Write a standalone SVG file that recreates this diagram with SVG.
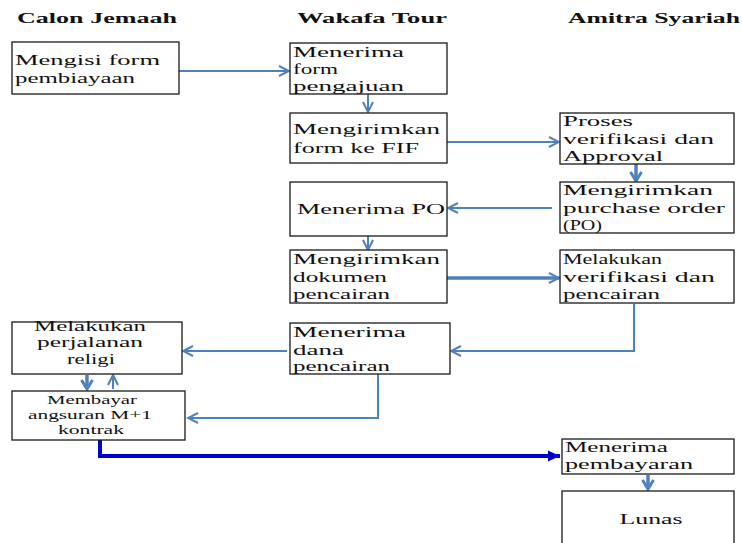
<svg xmlns="http://www.w3.org/2000/svg" width="742" height="543" viewBox="0 0 742 543">
<style>
  .box { fill: #ffffff; stroke: #1a1a1a; stroke-width: 1.3; }
  .t { font-family: 'Liberation Serif', 'DejaVu Serif', 'Times New Roman', serif; font-size: 15.5px; fill: #111; }
  .ts { font-family: 'Liberation Serif', 'DejaVu Serif', 'Times New Roman', serif; font-size: 12.5px; fill: #111; }
  .h { font-family: 'Liberation Serif', 'DejaVu Serif', 'Times New Roman', serif; font-size: 15px; font-weight: bold; fill: #111; }
  .c { fill: none; stroke: #4F81BD; stroke-width: 2; }
  .ck { fill: none; stroke: #4F81BD; stroke-width: 3.5; }
  .cb { fill: none; stroke: #0000CC; stroke-width: 4; }
</style>
<defs>
  <marker id="ah" markerUnits="userSpaceOnUse" markerWidth="14" markerHeight="14" viewBox="0 0 14 14" refX="12" refY="7" orient="auto">
    <path d="M2,2 L12,7 L2,12" fill="none" stroke="#4F81BD" stroke-width="2"/>
  </marker>
  <marker id="ahk" markerUnits="userSpaceOnUse" markerWidth="14" markerHeight="14" viewBox="0 0 14 14" refX="12" refY="7" orient="auto">
    <path d="M3,1.5 L12,7 L3,12.5" fill="none" stroke="#4F81BD" stroke-width="3"/>
  </marker>
  <marker id="ahb" markerUnits="userSpaceOnUse" markerWidth="14" markerHeight="14" viewBox="0 0 14 14" refX="13" refY="7" orient="auto">
    <path d="M1,1.5 L13,7 L1,12.5 Z" fill="#0000CC"/>
  </marker>
</defs>

<g id="headers">
  <text class="h" x="17" y="23" textLength="160" lengthAdjust="spacingAndGlyphs">Calon Jemaah</text>
  <text class="h" x="297" y="23" textLength="150" lengthAdjust="spacingAndGlyphs">Wakafa Tour</text>
  <text class="h" x="568" y="23" textLength="172" lengthAdjust="spacingAndGlyphs">Amitra Syariah</text>
</g>

<g id="connectors">
  <path class="c" d="M179,71 L289,71" marker-end="url(#ah)"/>
  <path class="c" d="M368,94 L368,112" marker-end="url(#ah)"/>
  <path class="c" d="M447,142 L559,142" marker-end="url(#ah)"/>
  <path class="ck" d="M636,164 L636,181" marker-end="url(#ahk)"/>
  <path class="c" d="M552,208 L448,208" marker-end="url(#ah)"/>
  <path class="c" d="M368,236 L368,250" marker-end="url(#ah)"/>
  <path class="ck" d="M447,278 L559,278" marker-end="url(#ah)"/>
  <path class="c" d="M634,304 L634,351 L451,351" marker-end="url(#ah)"/>
  <path class="c" d="M287,351 L183,351" marker-end="url(#ah)"/>
  <path class="c" d="M378,374 L378,418 L188,418" marker-end="url(#ah)"/>
  <path class="ck" d="M87,375 L87,389" marker-end="url(#ahk)"/>
  <path class="c" d="M113,389 L113,375" marker-end="url(#ah)"/>
  <path class="cb" d="M100,440 L100,456 L560,456" marker-end="url(#ahb)"/>
  <path class="ck" d="M648,475 L648,489" marker-end="url(#ahk)"/>
</g>

<g id="n1">
  <rect class="box" x="12" y="42" width="167" height="52"/>
  <text class="t" x="15" y="65" textLength="145" lengthAdjust="spacingAndGlyphs">Mengisi form</text>
  <text class="t" x="15" y="83" textLength="120" lengthAdjust="spacingAndGlyphs">pembiayaan</text>
</g>
<g id="n2">
  <rect class="box" x="290" y="43" width="157" height="51"/>
  <text class="t" x="293" y="57" textLength="111" lengthAdjust="spacingAndGlyphs">Menerima</text>
  <text class="t" x="293" y="74" textLength="45" lengthAdjust="spacingAndGlyphs">form</text>
  <text class="t" x="293" y="91" textLength="111" lengthAdjust="spacingAndGlyphs">pengajuan</text>
</g>
<g id="n3">
  <rect class="box" x="290" y="113" width="157" height="50"/>
  <text class="t" x="293" y="134" textLength="147" lengthAdjust="spacingAndGlyphs">Mengirimkan</text>
  <text class="t" x="293" y="153" textLength="126" lengthAdjust="spacingAndGlyphs">form ke FIF</text>
</g>
<g id="n4">
  <rect class="box" x="560" y="113" width="174" height="51"/>
  <text class="t" x="563" y="126" textLength="70" lengthAdjust="spacingAndGlyphs">Proses</text>
  <text class="t" x="563" y="144" textLength="151" lengthAdjust="spacingAndGlyphs">verifikasi dan</text>
  <text class="t" x="563" y="161" textLength="100" lengthAdjust="spacingAndGlyphs">Approval</text>
</g>
<g id="n5">
  <rect class="box" x="560" y="182" width="174" height="51"/>
  <text class="t" x="563" y="195" textLength="150" lengthAdjust="spacingAndGlyphs">Mengirimkan</text>
  <text class="t" x="563" y="213" textLength="162" lengthAdjust="spacingAndGlyphs">purchase order</text>
  <text class="t" x="563" y="230" textLength="39" lengthAdjust="spacingAndGlyphs">(PO)</text>
</g>
<g id="n6">
  <rect class="box" x="290" y="182" width="157" height="54"/>
  <text class="t" x="297" y="214" textLength="148" lengthAdjust="spacingAndGlyphs">Menerima PO</text>
</g>
<g id="n7">
  <rect class="box" x="290" y="250" width="157" height="53"/>
  <text class="t" x="293" y="264" textLength="147" lengthAdjust="spacingAndGlyphs">Mengirimkan</text>
  <text class="t" x="293" y="282" textLength="94" lengthAdjust="spacingAndGlyphs">dokumen</text>
  <text class="t" x="293" y="299" textLength="97" lengthAdjust="spacingAndGlyphs">pencairan</text>
</g>
<g id="n8">
  <rect class="box" x="560" y="250" width="174" height="53"/>
  <text class="t" x="563" y="264" textLength="99" lengthAdjust="spacingAndGlyphs">Melakukan</text>
  <text class="t" x="563" y="282" textLength="152" lengthAdjust="spacingAndGlyphs">verifikasi dan</text>
  <text class="t" x="563" y="299" textLength="97" lengthAdjust="spacingAndGlyphs">pencairan</text>
</g>
<g id="n9">
  <rect class="box" x="290" y="323" width="160" height="51"/>
  <text class="t" x="293" y="337" textLength="113" lengthAdjust="spacingAndGlyphs">Menerima</text>
  <text class="t" x="293" y="355" textLength="51" lengthAdjust="spacingAndGlyphs">dana</text>
  <text class="t" x="293" y="371" textLength="97" lengthAdjust="spacingAndGlyphs">pencairan</text>
</g>
<g id="n10">
  <rect class="box" x="12" y="322" width="170" height="52"/>
  <text class="t" x="90" y="331" text-anchor="middle" textLength="112" lengthAdjust="spacingAndGlyphs">Melakukan</text>
  <text class="t" x="90" y="347" text-anchor="middle" textLength="106" lengthAdjust="spacingAndGlyphs">perjalanan</text>
  <text class="t" x="91" y="364" text-anchor="middle" textLength="48" lengthAdjust="spacingAndGlyphs">religi</text>
</g>
<g id="n11">
  <rect class="box" x="12" y="391" width="173" height="49"/>
  <text class="ts" x="92" y="404" text-anchor="middle" textLength="90" lengthAdjust="spacingAndGlyphs">Membayar</text>
  <text class="ts" x="90" y="419" text-anchor="middle" textLength="124" lengthAdjust="spacingAndGlyphs">angsuran M+1</text>
  <text class="ts" x="91" y="434" text-anchor="middle" textLength="66" lengthAdjust="spacingAndGlyphs">kontrak</text>
</g>
<g id="n12">
  <rect class="box" x="562" y="439" width="172" height="35"/>
  <text class="t" x="565" y="452" textLength="103" lengthAdjust="spacingAndGlyphs">Menerima</text>
  <text class="t" x="565" y="469" textLength="128" lengthAdjust="spacingAndGlyphs">pembayaran</text>
</g>
<g id="n13">
  <rect class="box" x="562" y="491" width="172" height="60"/>
  <text class="t" x="651" y="524" text-anchor="middle" textLength="63" lengthAdjust="spacingAndGlyphs">Lunas</text>
</g>
</svg>
